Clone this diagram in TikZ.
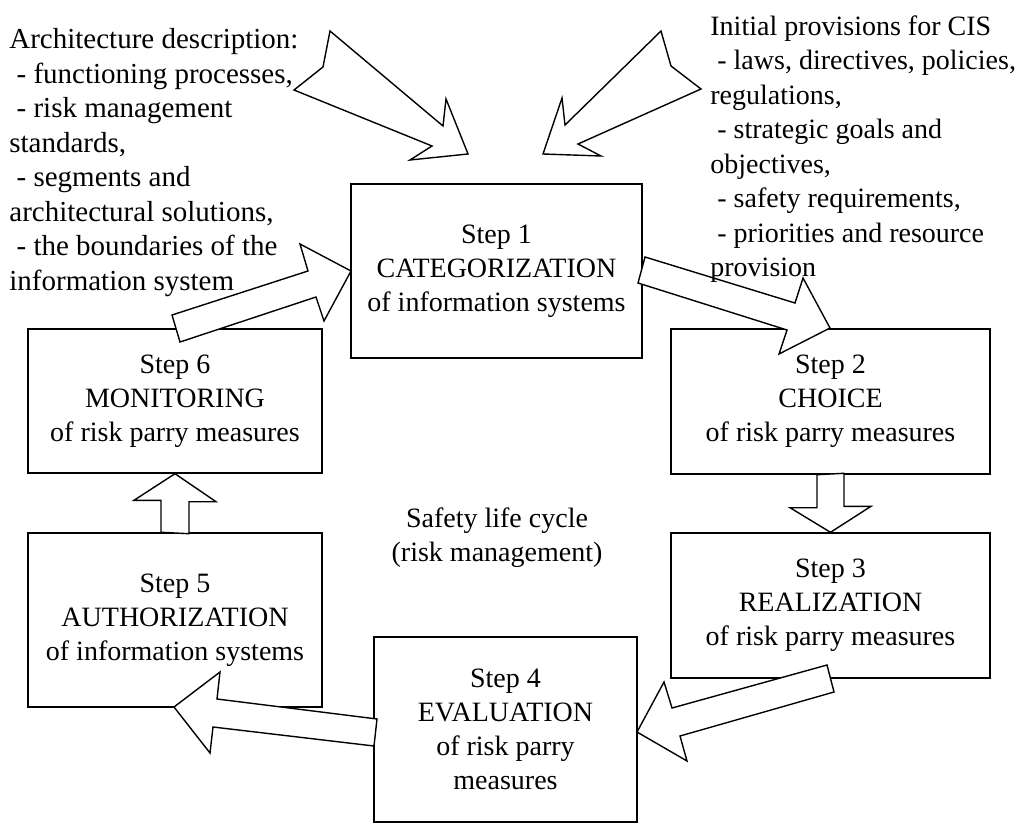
\documentclass[tikz,border=0pt]{standalone}
\usepackage{fontspec}
\setmainfont{Liberation Serif}

\begin{document}
\begin{tikzpicture}[x=0.5pt,y=-0.5pt,
		stepbox/.style={draw, line width=0.7pt, inner sep=0pt, align=center, font=\fontsize{14}{17}\selectfont},
		blockarrow/.style={draw, line width=0.7pt, fill=white, line join=miter},
		notetext/.style={inner sep=0pt, align=left, anchor=north west, font=\fontsize{14}{17.25}\selectfont}]
				\useasboundingbox (0,0) rectangle (1026,824);
				
				\node[stepbox, minimum width=145.5pt, minimum height=87pt] (S1) at (496.5,271) {Step 1\\CATEGORIZATION\\of information systems};
				\node[stepbox, minimum width=159.5pt, minimum height=72.5pt] (S2) at (830.5,401.5) {Step 2\\CHOICE\\of risk parry measures};
				\node[stepbox, minimum width=159.5pt, minimum height=72.5pt] (S3) at (830.5,605.5) {Step 3\\REALIZATION\\of risk parry measures};
				\node[stepbox, minimum width=131.5pt, minimum height=92.5pt] (S4) at (505.5,729.5) {Step 4\\EVALUATION\\of risk parry\\measures};
				\node[stepbox, minimum width=147pt, minimum height=87pt] (S5) at (175,620) {Step 5\\AUTHORIZATION\\of information systems};
				\node[stepbox, minimum width=147pt, minimum height=72pt] (S6) at (175,401) {Step 6\\MONITORING\\of risk parry measures};
				
				\node[stepbox, draw=none] (cycle) at (497,538) {Safety life cycle\\(risk management)};
				
				% input arrows
				\draw[blockarrow] (468,154) -- (446,99) -- (443,126) -- (330,31) -- (323,67) -- (294,90) -- (432,146) -- (410,160) -- cycle;
				\draw[blockarrow] (543,154) -- (562,98) -- (565,125) -- (661,31) -- (671,66) -- (701,89) -- (578,144) -- (601,156) -- cycle;
				
				% cycle arrows
				\draw[blockarrow] (645,257) -- (795,303) -- (803,278) -- (830,328) -- (779,354) -- (787,330) -- (638,283) -- cycle;
				\draw[blockarrow] ([xshift=-6.75pt]S2.south) -- ++(0,33) -- ++(-27,0) -- (S3.north) -- ++(40.5,-26) -- ++(-27,0) -- ++(0,-33) -- cycle;
				\draw[blockarrow] (827,665) -- (672,708) -- (664,682) -- (637,732) -- (687,761) -- (680,736) -- (834,692) -- cycle;
				\draw[blockarrow] (377,719) -- (217,699) -- (220,672) -- (174,707) -- (210,753) -- (213,727) -- (374,746) -- cycle;
				\draw[blockarrow] ([xshift=-7pt]S5.north) -- ++(0,-32) -- ++(-27,0) -- (S6.south) -- ++(41,28) -- ++(-27,0) -- ++(0,32) -- cycle;
				\draw[blockarrow] (172,315) -- (308,271) -- (300,244) -- (351,271) -- (324,321) -- (316,297) -- (180,342) -- cycle;
				
				\node[notetext, font=\fontsize{14.5}{17.25}\selectfont] (arch) at (9,28) {Architecture description:\\
					~- functioning processes,\\
					~- risk management\\
					standards,\\
					~- segments and\\
					architectural solutions,\\
					~- the boundaries of the\\
					information system};
				\node[notetext] (prov) at (710,15) {Initial provisions for CIS\\
					~- laws, directives, policies,\\
					regulations,\\
					~- strategic goals and\\
					objectives,\\
					~- safety requirements,\\
					~- priorities and resource\\
					provision};
			\end{tikzpicture}
\end{document}
